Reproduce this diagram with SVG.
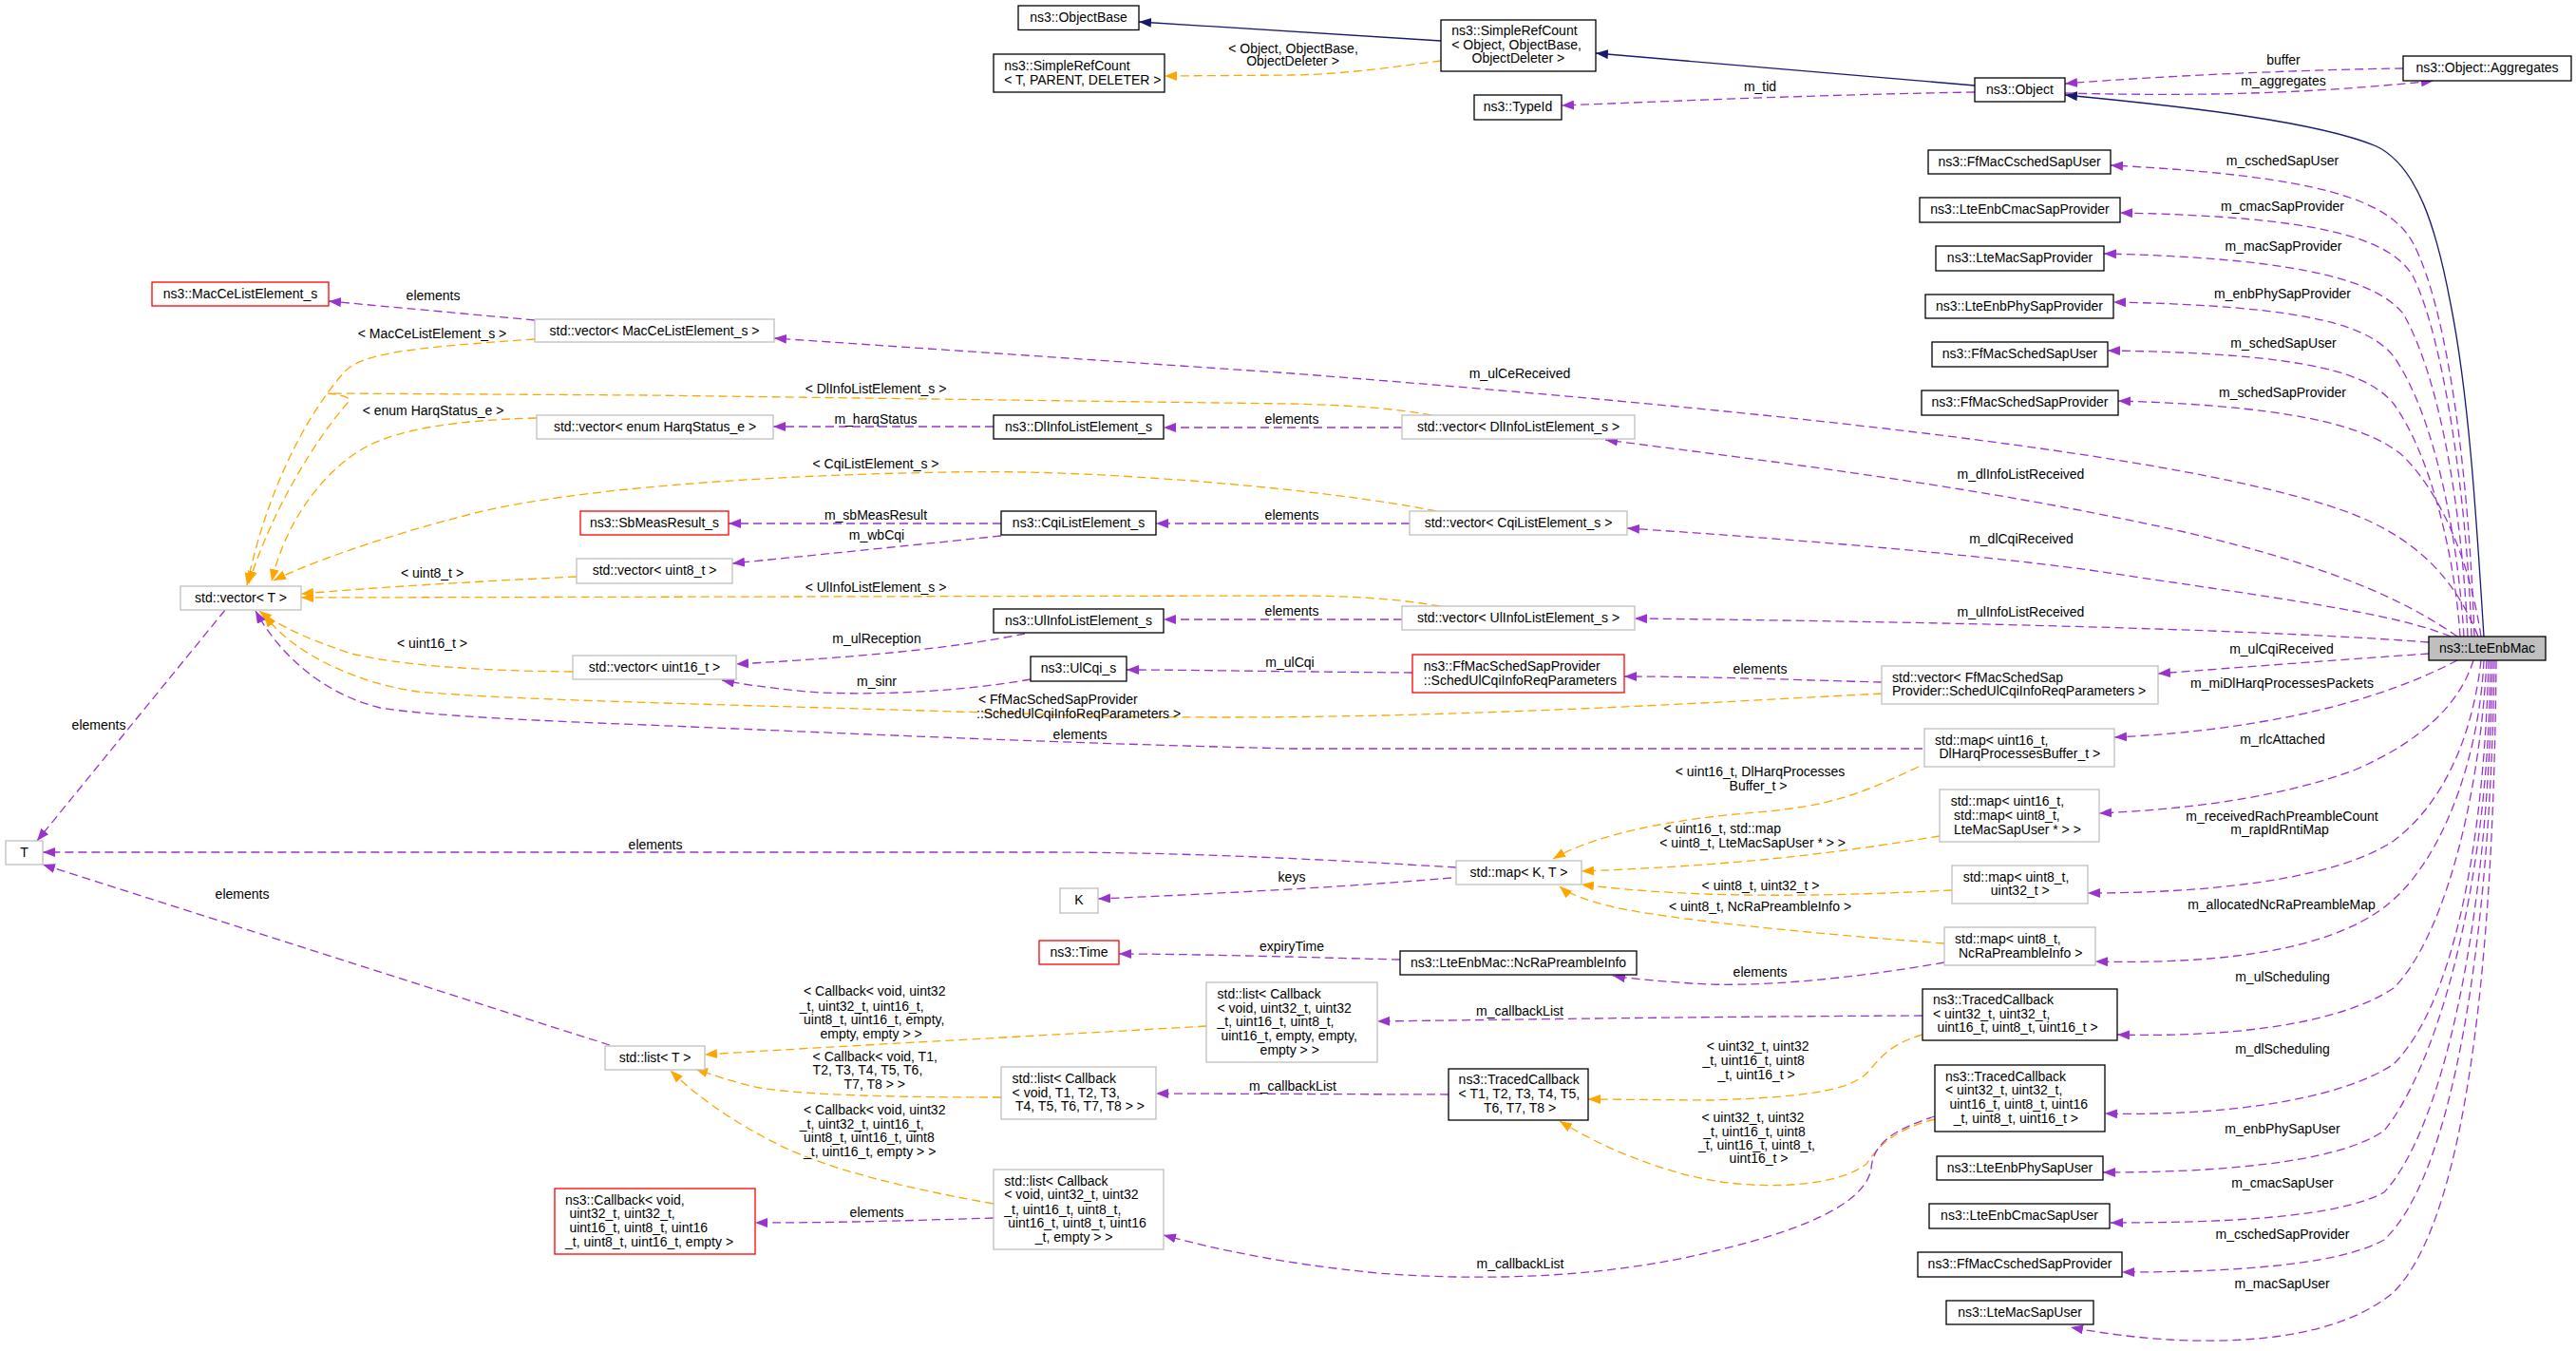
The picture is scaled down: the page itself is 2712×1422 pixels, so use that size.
<svg xmlns="http://www.w3.org/2000/svg" width="2712" height="1422" viewBox="0 0 2712 1422">
<style>
text{font-family:"Liberation Sans",Arial,sans-serif;font-size:14px;fill:#000}
.c{text-anchor:middle}
rect{fill:#fff;stroke-width:1.3}
.b{stroke:#000}
.g{stroke:#bfbfbf}
.r{stroke:#ff0000}
.main{fill:#bfbfbf;stroke:#000}
path{fill:none;stroke-width:1.3}
.p{stroke:#9a32cd;stroke-dasharray:9,5;marker-end:url(#mp)}
.o{stroke:#ffa500;stroke-dasharray:9,5;marker-end:url(#mo)}
.n{stroke:#191970;marker-end:url(#mn)}
</style>
<defs>
<marker id="mp" viewBox="0 0 13 10" refX="13" refY="5" markerWidth="13" markerHeight="10" markerUnits="userSpaceOnUse" orient="auto"><path d="M0,0 L13,5 L0,10 z" style="fill:#9a32cd;stroke:none"/></marker>
<marker id="mo" viewBox="0 0 13 10" refX="13" refY="5" markerWidth="13" markerHeight="10" markerUnits="userSpaceOnUse" orient="auto"><path d="M0,0 L13,5 L0,10 z" style="fill:#ffa500;stroke:none"/></marker>
<marker id="mn" viewBox="0 0 13 10" refX="13" refY="5" markerWidth="13" markerHeight="10" markerUnits="userSpaceOnUse" orient="auto"><path d="M0,0 L13,5 L0,10 z" style="fill:#191970;stroke:none"/></marker>
</defs>
<rect x="0" y="0" width="2712" height="1422" style="fill:#fff;stroke:none"/>
<g id="connectors">
<path class="n" d="M1517,43 L1199,23"/>
<path class="n" d="M2079,90 L1680,56"/>
<path class="n" d="M2615,670 C2608,560 2600,420 2580,320 C2565,240 2545,175 2502,154 C2440,128 2300,112 2174,100"/>
<path class="o" d="M1517,64 C1470,70 1420,78 1360,79 L1226,80"/>
<path class="o" d="M563,357 C430,366 380,372 362,392 C320,440 280,520 260,616"/>
<path class="o" d="M1507,437 C1460,428 1400,426 1360,425 L680,416 L345,414 C362,416 372,419 366,424 C330,465 285,540 262,614"/>
<path class="o" d="M565,440 C480,442 420,452 386,470 C340,495 300,550 286,612"/>
<path class="o" d="M1512,538 C1400,515 1150,493 1000,497 C800,500 600,515 500,540 C400,565 320,595 288,611"/>
<path class="o" d="M607,607 C500,612 400,618 317,625"/>
<path class="o" d="M1516,638 C1470,630 1420,627 1360,627 L317,629"/>
<path class="o" d="M603,707 C500,706 420,700 370,688 C330,675 295,660 273,643"/>
<path class="o" d="M1981,730 C1700,745 1400,762 1100,752 C800,742 550,738 440,728 C380,720 310,690 278,647"/>
<path class="o" d="M2020,807 C1960,835 1930,848 1850,855 C1760,862 1680,878 1635,904"/>
<path class="o" d="M2042,880 C1950,895 1850,910 1665,917"/>
<path class="o" d="M2055,937 C1950,942 1800,948 1665,931"/>
<path class="o" d="M2047,993 C1900,982 1760,968 1700,955 C1670,948 1650,940 1642,933"/>
<path class="o" d="M1270,1080 C1100,1090 900,1100 742,1110"/>
<path class="o" d="M1054,1155 C950,1155 850,1153 800,1145 C770,1139 750,1131 732,1125"/>
<path class="o" d="M1046,1267 C950,1250 870,1230 820,1205 C780,1185 740,1160 706,1127"/>
<path class="o" d="M2024,1089 C1985,1100 1975,1120 1965,1130 C1945,1148 1900,1155 1800,1158 L1672,1157"/>
<path class="o" d="M2037,1178 C1990,1190 1975,1210 1965,1225 C1940,1245 1880,1252 1820,1245 C1760,1238 1690,1210 1642,1180"/>
<path class="p" d="M2079,97 C1900,100 1750,107 1644,111"/>
<path class="p" d="M2530,72 C2450,73 2300,78 2174,88"/>
<path class="p" d="M2174,98 C2300,101 2420,100 2562,85"/>
<path class="p" d="M2605,670 C2600,520 2580,330 2540,255 C2515,210 2440,185 2222,174"/>
<path class="p" d="M2602,670 C2598,540 2575,360 2540,290 C2515,250 2440,228 2232,224"/>
<path class="p" d="M2598,670 C2592,540 2570,400 2530,330 C2505,300 2440,272 2215,267"/>
<path class="p" d="M2594,670 C2588,570 2565,440 2520,375 C2495,345 2440,322 2225,318"/>
<path class="p" d="M2590,670 C2585,590 2560,480 2520,425 C2495,395 2440,372 2219,369"/>
<path class="p" d="M2612,670 C2600,590 2570,520 2530,480 C2500,455 2440,428 2230,422"/>
<path class="p" d="M2609,670 C2585,610 2545,565 2466,537 C2300,480 1900,435 1360,393 L815,356"/>
<path class="p" d="M2587,670 C2530,630 2450,595 2300,560 C2100,515 1900,490 1690,463"/>
<path class="p" d="M2580,670 C2520,645 2400,630 2200,600 C2050,580 1850,565 1713,556"/>
<path class="p" d="M2557,676 C2400,664 2100,655 1721,651"/>
<path class="p" d="M2557,688 C2470,694 2350,703 2272,709"/>
<path class="p" d="M2587,695 C2540,720 2470,745 2379,760 C2320,770 2270,774 2226,776"/>
<path class="p" d="M2604,695 C2590,740 2550,780 2480,810 C2400,840 2300,852 2210,856"/>
<path class="p" d="M2612,695 C2605,760 2580,840 2520,885 C2460,925 2330,940 2198,940"/>
<path class="p" d="M2615,695 C2610,800 2570,910 2510,955 C2450,1000 2340,1015 2206,1012"/>
<path class="p" d="M2618,695 C2610,850 2570,990 2520,1040 C2460,1080 2340,1092 2229,1089"/>
<path class="p" d="M2620,695 C2615,900 2580,1060 2520,1120 C2460,1160 2330,1175 2216,1172"/>
<path class="p" d="M2622,695 C2620,950 2560,1130 2510,1190 C2460,1225 2330,1234 2214,1234"/>
<path class="p" d="M2624,695 C2620,980 2570,1190 2510,1255 C2460,1282 2340,1287 2222,1287"/>
<path class="p" d="M2626,695 C2622,1000 2580,1240 2510,1305 C2460,1333 2340,1339 2234,1339"/>
<path class="p" d="M2628,695 C2625,1050 2590,1290 2520,1360 C2450,1420 2300,1420 2180,1397"/>
<path class="p" d="M2037,1175 C1990,1190 1972,1205 1970,1230 C1965,1260 1920,1290 1800,1318 C1700,1342 1580,1350 1450,1340 C1350,1330 1280,1315 1225,1300"/>
<path class="p" d="M2024,1069 C1800,1070 1600,1073 1450,1075"/>
<path class="p" d="M1525,1152 L1217,1151"/>
<path class="p" d="M2047,1013 C1950,1030 1850,1040 1780,1035 C1740,1032 1715,1030 1698,1027"/>
<path class="p" d="M1474,1010 C1350,1007 1250,1004 1178,1004"/>
<path class="p" d="M1046,1282 C950,1285 880,1287 795,1287"/>
<path class="p" d="M642,1100 L45,910"/>
<path class="p" d="M237,642 L39,885"/>
<path class="p" d="M1533,913 C1400,905 1250,897 1100,897 L45,897"/>
<path class="p" d="M1528,924 C1400,935 1250,942 1156,946"/>
<path class="p" d="M2024,788 L1360,788 C1100,782 850,770 680,763 C550,758 450,753 400,745 C340,730 295,690 269,643"/>
<path class="p" d="M1981,718 C1900,716 1800,712 1710,712"/>
<path class="p" d="M1487,708 C1350,707 1250,705 1186,705"/>
<path class="p" d="M1085,715 C1000,730 900,732 850,728 C810,724 780,720 760,716"/>
<path class="p" d="M1079,667 C1000,683 900,692 775,699"/>
<path class="p" d="M1476,652 L1225,652"/>
<path class="p" d="M1484,551 L1217,551"/>
<path class="p" d="M1054,551 L767,551"/>
<path class="p" d="M1054,564 C950,575 850,585 771,593"/>
<path class="p" d="M1476,450 L1225,450"/>
<path class="p" d="M1046,449 L814,449"/>
<path class="p" d="M563,337 L346,317"/>
</g>
<g id="edge-labels">
<text class="c" x="1361.5" y="55.7">&lt; Object, ObjectBase,</text>
<text class="c" x="1361" y="69.3">ObjectDeleter &gt;</text>
<text class="c" x="1853" y="96.3">m_tid</text>
<text class="c" x="2404" y="68.3">buffer</text>
<text class="c" x="2404" y="90">m_aggregates</text>
<text class="c" x="2403" y="174">m_cschedSapUser</text>
<text class="c" x="2403" y="222">m_cmacSapProvider</text>
<text class="c" x="2404" y="263.7">m_macSapProvider</text>
<text class="c" x="2403" y="314">m_enbPhySapProvider</text>
<text class="c" x="2404" y="365.7">m_schedSapUser</text>
<text class="c" x="2403" y="418">m_schedSapProvider</text>
<text class="c" x="456" y="315.7">elements</text>
<text class="c" x="455" y="355.7">&lt; MacCeListElement_s &gt;</text>
<text class="c" x="1600" y="397.7">m_ulCeReceived</text>
<text class="c" x="922" y="413.7">&lt; DlInfoListElement_s &gt;</text>
<text class="c" x="456" y="437">&lt; enum HarqStatus_e &gt;</text>
<text class="c" x="922" y="445.7">m_harqStatus</text>
<text class="c" x="1360" y="446">elements</text>
<text class="c" x="2127.5" y="504.3">m_dlInfoListReceived</text>
<text class="c" x="922" y="493.3">&lt; CqiListElement_s &gt;</text>
<text class="c" x="922" y="547.3">m_sbMeasResult</text>
<text class="c" x="923" y="567.7">m_wbCqi</text>
<text class="c" x="1360" y="547">elements</text>
<text class="c" x="2128" y="571.7">m_dlCqiReceived</text>
<text class="c" x="455" y="607.7">&lt; uint8_t &gt;</text>
<text class="c" x="922" y="623">&lt; UlInfoListElement_s &gt;</text>
<text class="c" x="1360" y="647.7">elements</text>
<text class="c" x="2127.5" y="649.3">m_ulInfoListReceived</text>
<text class="c" x="923" y="676.7">m_ulReception</text>
<text class="c" x="455" y="681.7">&lt; uint16_t &gt;</text>
<text class="c" x="2402" y="688.3">m_ulCqiReceived</text>
<text class="c" x="1358" y="701.7">m_ulCqi</text>
<text class="c" x="1853" y="708.7">elements</text>
<text class="c" x="923" y="722">m_sinr</text>
<text class="c" x="2402.5" y="723.7">m_miDlHarqProcessesPackets</text>
<text x="1030" y="740.7">&lt; FfMacSchedSapProvider</text>
<text x="1028" y="755.7">::SchedUlCqiInfoReqParameters &gt;</text>
<text class="c" x="1137" y="777.7">elements</text>
<text class="c" x="104" y="767.7">elements</text>
<text class="c" x="2403" y="783.3">m_rlcAttached</text>
<text class="c" x="1853" y="816.7">&lt; uint16_t, DlHarqProcesses</text>
<text class="c" x="1851" y="831.7">Buffer_t &gt;</text>
<text x="1751.6" y="876.7">&lt; uint16_t, std::map</text>
<text x="1747.3" y="891.7">&lt; uint8_t, LteMacSapUser * &gt; &gt;</text>
<text class="c" x="2402.5" y="863.7">m_receivedRachPreambleCount</text>
<text class="c" x="2400" y="877.7">m_rapIdRntiMap</text>
<text class="c" x="690" y="893.7">elements</text>
<text class="c" x="1360" y="927.7">keys</text>
<text class="c" x="1853.5" y="936.7">&lt; uint8_t, uint32_t &gt;</text>
<text class="c" x="1853" y="959.3">&lt; uint8_t, NcRaPreambleInfo &gt;</text>
<text class="c" x="2402" y="956.7">m_allocatedNcRaPreambleMap</text>
<text class="c" x="255" y="945.7">elements</text>
<text class="c" x="1360" y="1001.3">expiryTime</text>
<text class="c" x="1853" y="1027.7">elements</text>
<text class="c" x="2403" y="1032.7">m_ulScheduling</text>
<text class="c" x="1600" y="1068.7">m_callbackList</text>
<text x="846" y="1048">&lt; Callback&lt; void, uint32</text>
<text x="841.8" y="1063.7">_t, uint32_t, uint16_t,</text>
<text x="846" y="1077.7">uint8_t, uint16_t, empty,</text>
<text x="863.5" y="1092.7">empty, empty &gt; &gt;</text>
<text x="1796.7" y="1105.7">&lt; uint32_t, uint32</text>
<text x="1792.4" y="1120.7">_t, uint16_t, uint8</text>
<text x="1808.4" y="1135.7">_t, uint16_t &gt;</text>
<text class="c" x="2403" y="1108.7">m_dlScheduling</text>
<text x="855.6" y="1116.7">&lt; Callback&lt; void, T1,</text>
<text x="855.6" y="1131.3">T2, T3, T4, T5, T6,</text>
<text x="888.6" y="1145.7">T7, T8 &gt; &gt;</text>
<text class="c" x="1361" y="1147.7">m_callbackList</text>
<text x="846" y="1172.7">&lt; Callback&lt; void, uint32</text>
<text x="841.8" y="1187.7">_t, uint32_t, uint16_t,</text>
<text x="846" y="1201.7">uint8_t, uint16_t, uint8</text>
<text x="846" y="1216.7">_t, uint16_t, empty &gt; &gt;</text>
<text x="1791.5" y="1180.7">&lt; uint32_t, uint32</text>
<text x="1793.3" y="1195.7">_t, uint16_t, uint8</text>
<text x="1788" y="1209.7">_t, uint16_t, uint8_t,</text>
<text x="1820.6" y="1224.3">uint16_t &gt;</text>
<text class="c" x="2403" y="1192.7">m_enbPhySapUser</text>
<text class="c" x="2403" y="1249.7">m_cmacSapUser</text>
<text class="c" x="923" y="1280.7">elements</text>
<text class="c" x="2403" y="1303.7">m_cschedSapProvider</text>
<text class="c" x="1600.5" y="1335.3">m_callbackList</text>
<text class="c" x="2402.6" y="1355.7">m_macSapUser</text>
</g>
<g id="nodes">
<g id="ObjectBase"><rect class="b" x="1072" y="6" width="127" height="25.5"/><text class="c" x="1135.5" y="23">ns3::ObjectBase</text></g>
<g id="SimpleRefCountT"><rect class="b" x="1046" y="57" width="180" height="40"/><text x="1057.3" y="74">ns3::SimpleRefCount</text><text x="1057.3" y="88.7">&lt; T, PARENT, DELETER &gt;</text></g>
<g id="SimpleRefCountObject"><rect class="b" x="1517" y="21" width="163" height="54"/><text x="1528.3" y="37.3">ns3::SimpleRefCount</text><text x="1528.3" y="51.7">&lt; Object, ObjectBase,</text><text x="1549.5" y="66.3">ObjectDeleter &gt;</text></g>
<g id="TypeId"><rect class="b" x="1552" y="100" width="92" height="26"/><text class="c" x="1598" y="117">ns3::TypeId</text></g>
<g id="Object"><rect class="b" x="2079" y="82" width="95" height="25"/><text class="c" x="2126.5" y="99">ns3::Object</text></g>
<g id="Aggregates"><rect class="b" x="2530" y="59" width="177" height="26"/><text class="c" x="2618.5" y="76">ns3::Object::Aggregates</text></g>
<g id="FfMacCschedSapUser"><rect class="b" x="2030" y="158" width="192" height="25"/><text class="c" x="2126" y="175">ns3::FfMacCschedSapUser</text></g>
<g id="LteEnbCmacSapProvider"><rect class="b" x="2021" y="208" width="211" height="26"/><text class="c" x="2126.5" y="225">ns3::LteEnbCmacSapProvider</text></g>
<g id="LteMacSapProvider"><rect class="b" x="2038" y="259" width="177" height="26"/><text class="c" x="2126.5" y="276">ns3::LteMacSapProvider</text></g>
<g id="LteEnbPhySapProvider"><rect class="b" x="2027" y="310" width="198" height="25"/><text class="c" x="2126" y="327">ns3::LteEnbPhySapProvider</text></g>
<g id="FfMacSchedSapUser"><rect class="b" x="2034" y="360" width="185" height="26"/><text class="c" x="2126.5" y="377">ns3::FfMacSchedSapUser</text></g>
<g id="FfMacSchedSapProvider"><rect class="b" x="2023" y="411" width="207" height="26"/><text class="c" x="2126.5" y="428">ns3::FfMacSchedSapProvider</text></g>
<g id="MacCeListElement"><rect class="r" x="160" y="297" width="186" height="25"/><text class="c" x="253" y="314">ns3::MacCeListElement_s</text></g>
<g id="vectorMacCe"><rect class="g" x="563" y="336" width="252" height="24"/><text class="c" x="689" y="352.5">std::vector&lt; MacCeListElement_s &gt;</text></g>
<g id="vectorHarq"><rect class="g" x="565" y="437" width="249" height="25"/><text class="c" x="689.5" y="454">std::vector&lt; enum HarqStatus_e &gt;</text></g>
<g id="DlInfoListElement"><rect class="b" x="1046" y="437" width="179" height="25"/><text class="c" x="1135.5" y="454">ns3::DlInfoListElement_s</text></g>
<g id="vectorDlInfo"><rect class="g" x="1476" y="437" width="245" height="25"/><text class="c" x="1598.5" y="454">std::vector&lt; DlInfoListElement_s &gt;</text></g>
<g id="SbMeasResult"><rect class="r" x="611" y="538" width="156" height="25"/><text class="c" x="689" y="555">ns3::SbMeasResult_s</text></g>
<g id="CqiListElement"><rect class="b" x="1054" y="538" width="163" height="25"/><text class="c" x="1135.5" y="555">ns3::CqiListElement_s</text></g>
<g id="vectorCqi"><rect class="g" x="1484" y="538" width="229" height="25"/><text class="c" x="1598.5" y="555">std::vector&lt; CqiListElement_s &gt;</text></g>
<g id="vectorUint8"><rect class="g" x="607" y="588" width="164" height="26"/><text class="c" x="689" y="605">std::vector&lt; uint8_t &gt;</text></g>
<g id="vectorT"><rect class="g" x="190" y="617" width="127" height="25"/><text class="c" x="253.5" y="634">std::vector&lt; T &gt;</text></g>
<g id="UlInfoListElement"><rect class="b" x="1046" y="641" width="179" height="25"/><text class="c" x="1135.5" y="658">ns3::UlInfoListElement_s</text></g>
<g id="vectorUlInfo"><rect class="g" x="1476" y="638" width="245" height="25"/><text class="c" x="1598.5" y="655">std::vector&lt; UlInfoListElement_s &gt;</text></g>
<g id="vectorUint16"><rect class="g" x="603" y="690" width="172" height="25"/><text class="c" x="689" y="707">std::vector&lt; uint16_t &gt;</text></g>
<g id="UlCqi"><rect class="b" x="1085" y="691" width="101" height="26"/><text class="c" x="1135.5" y="708">ns3::UlCqi_s</text></g>
<g id="SchedUlCqiInfoReqParameters"><rect class="r" x="1487" y="689" width="223" height="40"/><text x="1498.8" y="705.7">ns3::FfMacSchedSapProvider</text><text x="1498.8" y="720.7">::SchedUlCqiInfoReqParameters</text></g>
<g id="vectorSchedUlCqi"><rect class="g" x="1981" y="701" width="291" height="40"/><text x="1992" y="717.7">std::vector&lt; FfMacSchedSap</text><text x="1992" y="732.3">Provider::SchedUlCqiInfoReqParameters &gt;</text></g>
<g id="LteEnbMac"><rect class="main" x="2557" y="670" width="123" height="25"/><text class="c" x="2618.5" y="687">ns3::LteEnbMac</text></g>
<g id="mapDlHarq"><rect class="g" x="2026" y="767" width="200" height="40"/><text x="2037" y="783.7">std::map&lt; uint16_t,</text><text x="2041.5" y="797.7">DlHarqProcessesBuffer_t &gt;</text></g>
<g id="mapRlc"><rect class="g" x="2042" y="831" width="168" height="55"/><text x="2053.7" y="847.7">std::map&lt; uint16_t,</text><text x="2057" y="862.7">std::map&lt; uint8_t,</text><text x="2057" y="877.7">LteMacSapUser * &gt; &gt;</text></g>
<g id="mapUint8Uint32"><rect class="g" x="2055" y="911" width="143" height="40"/><text x="2066.7" y="927.7">std::map&lt; uint8_t,</text><text x="2095.8" y="941.7">uint32_t &gt;</text></g>
<g id="mapNcRa"><rect class="g" x="2047" y="976" width="159" height="40"/><text x="2058" y="992.7">std::map&lt; uint8_t,</text><text x="2062" y="1007.7">NcRaPreambleInfo &gt;</text></g>
<g id="T"><rect class="g" x="6" y="885" width="39" height="25"/><text class="c" x="25.5" y="902">T</text></g>
<g id="mapKT"><rect class="g" x="1533" y="906" width="132" height="25"/><text class="c" x="1599" y="923">std::map&lt; K, T &gt;</text></g>
<g id="K"><rect class="g" x="1116" y="935" width="40" height="26"/><text class="c" x="1136" y="952">K</text></g>
<g id="Time"><rect class="r" x="1094" y="990" width="84" height="25"/><text class="c" x="1136" y="1007">ns3::Time</text></g>
<g id="NcRaPreambleInfo"><rect class="b" x="1474" y="1001" width="249" height="25"/><text class="c" x="1598.5" y="1018">ns3::LteEnbMac::NcRaPreambleInfo</text></g>
<g id="listCallbackEmpty"><rect class="g" x="1270" y="1034" width="180" height="84"/><text x="1281.5" y="1050.7">std::list&lt; Callback</text><text x="1281.5" y="1065.7">&lt; void, uint32_t, uint32</text><text x="1281.5" y="1080">_t, uint16_t, uint8_t,</text><text x="1285.4" y="1094.7">uint16_t, empty, empty,</text><text x="1326.6" y="1109.7">empty &gt; &gt;</text></g>
<g id="TracedCallback5"><rect class="b" x="2024" y="1041" width="205" height="54"/><text x="2035" y="1057.3">ns3::TracedCallback</text><text x="2035" y="1071.7">&lt; uint32_t, uint32_t,</text><text x="2039.4" y="1086.3">uint16_t, uint8_t, uint16_t &gt;</text></g>
<g id="listT"><rect class="g" x="637" y="1101" width="105" height="25"/><text class="c" x="689.5" y="1118">std::list&lt; T &gt;</text></g>
<g id="listCallbackT"><rect class="g" x="1054" y="1123" width="163" height="55"/><text x="1065.6" y="1139.7">std::list&lt; Callback</text><text x="1065.6" y="1154.7">&lt; void, T1, T2, T3,</text><text x="1069" y="1169.3">T4, T5, T6, T7, T8 &gt; &gt;</text></g>
<g id="TracedCallbackT"><rect class="b" x="1525" y="1125" width="147" height="54"/><text x="1535.6" y="1141.3">ns3::TracedCallback</text><text x="1535.6" y="1155.7">&lt; T1, T2, T3, T4, T5,</text><text x="1562" y="1170.7">T6, T7, T8 &gt;</text></g>
<g id="TracedCallback7"><rect class="b" x="2037" y="1121" width="179" height="70"/><text x="2048" y="1137.7">ns3::TracedCallback</text><text x="2048" y="1152.3">&lt; uint32_t, uint32_t,</text><text x="2052.4" y="1167.3">uint16_t, uint8_t, uint16</text><text x="2056.7" y="1181.7">_t, uint8_t, uint16_t &gt;</text></g>
<g id="LteEnbPhySapUser"><rect class="b" x="2039" y="1217" width="175" height="25"/><text class="c" x="2126.5" y="1234">ns3::LteEnbPhySapUser</text></g>
<g id="Callback"><rect class="r" x="584" y="1251" width="211" height="69"/><text x="595" y="1267.7">ns3::Callback&lt; void,</text><text x="599.4" y="1282">uint32_t, uint32_t,</text><text x="599.4" y="1297">uint16_t, uint8_t, uint16</text><text x="595" y="1311.7">_t, uint8_t, uint16_t, empty &gt;</text></g>
<g id="listCallback7"><rect class="g" x="1046" y="1231" width="179" height="84"/><text x="1057.3" y="1247.7">std::list&lt; Callback</text><text x="1057.3" y="1262.3">&lt; void, uint32_t, uint32</text><text x="1057.3" y="1277.7">_t, uint16_t, uint8_t,</text><text x="1061.2" y="1291.7">uint16_t, uint8_t, uint16</text><text x="1089.8" y="1306.7">_t, empty &gt; &gt;</text></g>
<g id="LteEnbCmacSapUser"><rect class="b" x="2031" y="1267" width="190" height="26"/><text class="c" x="2126" y="1284">ns3::LteEnbCmacSapUser</text></g>
<g id="FfMacCschedSapProvider"><rect class="b" x="2019" y="1318" width="215" height="26"/><text class="c" x="2126.5" y="1335">ns3::FfMacCschedSapProvider</text></g>
<g id="LteMacSapUser"><rect class="b" x="2049" y="1369" width="155" height="25"/><text class="c" x="2126.5" y="1386">ns3::LteMacSapUser</text></g>
</g>
</svg>
